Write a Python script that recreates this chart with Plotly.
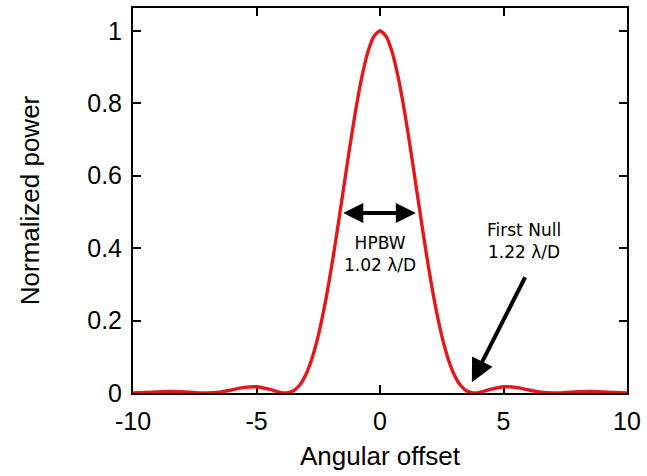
import plotly.graph_objects as go

# Normalized power of the beam pattern versus angular offset
offset_pos = [0.0, 0.25, 0.5, 0.75, 1.0, 1.25, 1.5, 1.75, 2.0, 2.25, 2.5, 2.75,
              3.0, 3.25, 3.5, 3.75, 3.83, 4.0, 4.5, 5.0, 5.5, 6.0, 6.5, 7.02,
              7.5, 8.0, 8.5, 9.0, 9.5, 10.0]
power_pos = [1.0, 0.9845, 0.9393, 0.8671, 0.7746, 0.6675, 0.5534, 0.4397,
             0.3326, 0.2376, 0.1582, 0.0960, 0.0511, 0.0220, 0.0062, 0.0003,
             0.0, 0.0011, 0.0106, 0.0172, 0.0154, 0.0085, 0.0022, 0.0,
             0.0013, 0.0034, 0.0041, 0.0030, 0.0012, 0.0001]

# symmetric pattern: mirror the positive side
offset = [-v for v in offset_pos[:0:-1]] + offset_pos
power = power_pos[:0:-1] + power_pos

x_ticks = [-10, -5, 0, 5, 10]
x_tick_text = ["-10", "-5", "0", "5", "10"]
y_ticks = [0, 0.2, 0.4, 0.6, 0.8, 1]
y_tick_text = ["0", "0.2", "0.4", "0.6", "0.8", "1"]

fig = go.Figure()
fig.add_trace(go.Scatter(
    x=offset, y=power, mode="lines",
    line=dict(color="#e01a1c", width=3.4, shape="spline", smoothing=0.6),
    showlegend=False,
))

note_font = dict(family="DejaVu Sans", size=17, color="black")

# HPBW double arrow
fig.add_annotation(x=1.45, y=0.497, ax=-1.55, ay=0.497, xref="x", yref="y",
                   axref="x", ayref="y", text="", showarrow=True,
                   arrowhead=2, arrowsize=1, arrowwidth=4, arrowcolor="black",
                   arrowside="end+start")
fig.add_annotation(x=0, y=0.385, xref="x", yref="y", text="HPBW<br>1.02 λ/D",
                   showarrow=False, font=note_font)

# First null arrow
fig.add_annotation(x=3.72, y=0.03, ax=5.91, ay=0.324, xref="x", yref="y",
                   axref="x", ayref="y", text="", showarrow=True,
                   arrowhead=2, arrowsize=1.15, arrowwidth=4, arrowcolor="black")
fig.add_annotation(x=5.84, y=0.42, xref="x", yref="y", text="First Null<br>1.22 λ/D",
                   showarrow=False, font=note_font)

tick_font = dict(family="Liberation Sans, Arial", size=25, color="black")
title_font = dict(family="Liberation Sans, Arial", size=26, color="black")

axis_common = dict(
    showline=True, linecolor="black", linewidth=2, mirror="ticks",
    ticks="inside", ticklen=8, tickwidth=2, tickcolor="black",
    showgrid=False, zeroline=False, tickfont=tick_font,
    layer="below traces",
)

fig.update_xaxes(range=[-10, 10], tickvals=x_ticks, ticktext=x_tick_text,
                 ticklabelstandoff=5,
                 title=dict(text="Angular offset", standoff=13, font=title_font),
                 **axis_common)
fig.update_yaxes(range=[0, 1.063], tickvals=y_ticks, ticktext=y_tick_text,
                 ticklabelstandoff=4,
                 title=dict(text="Normalized power", standoff=40, font=title_font),
                 **axis_common)

fig.update_layout(
    width=647, height=476,
    margin=dict(l=133, r=19, t=6, b=83),
    plot_bgcolor="white", paper_bgcolor="white",
)

fig.write_html("out.html")
